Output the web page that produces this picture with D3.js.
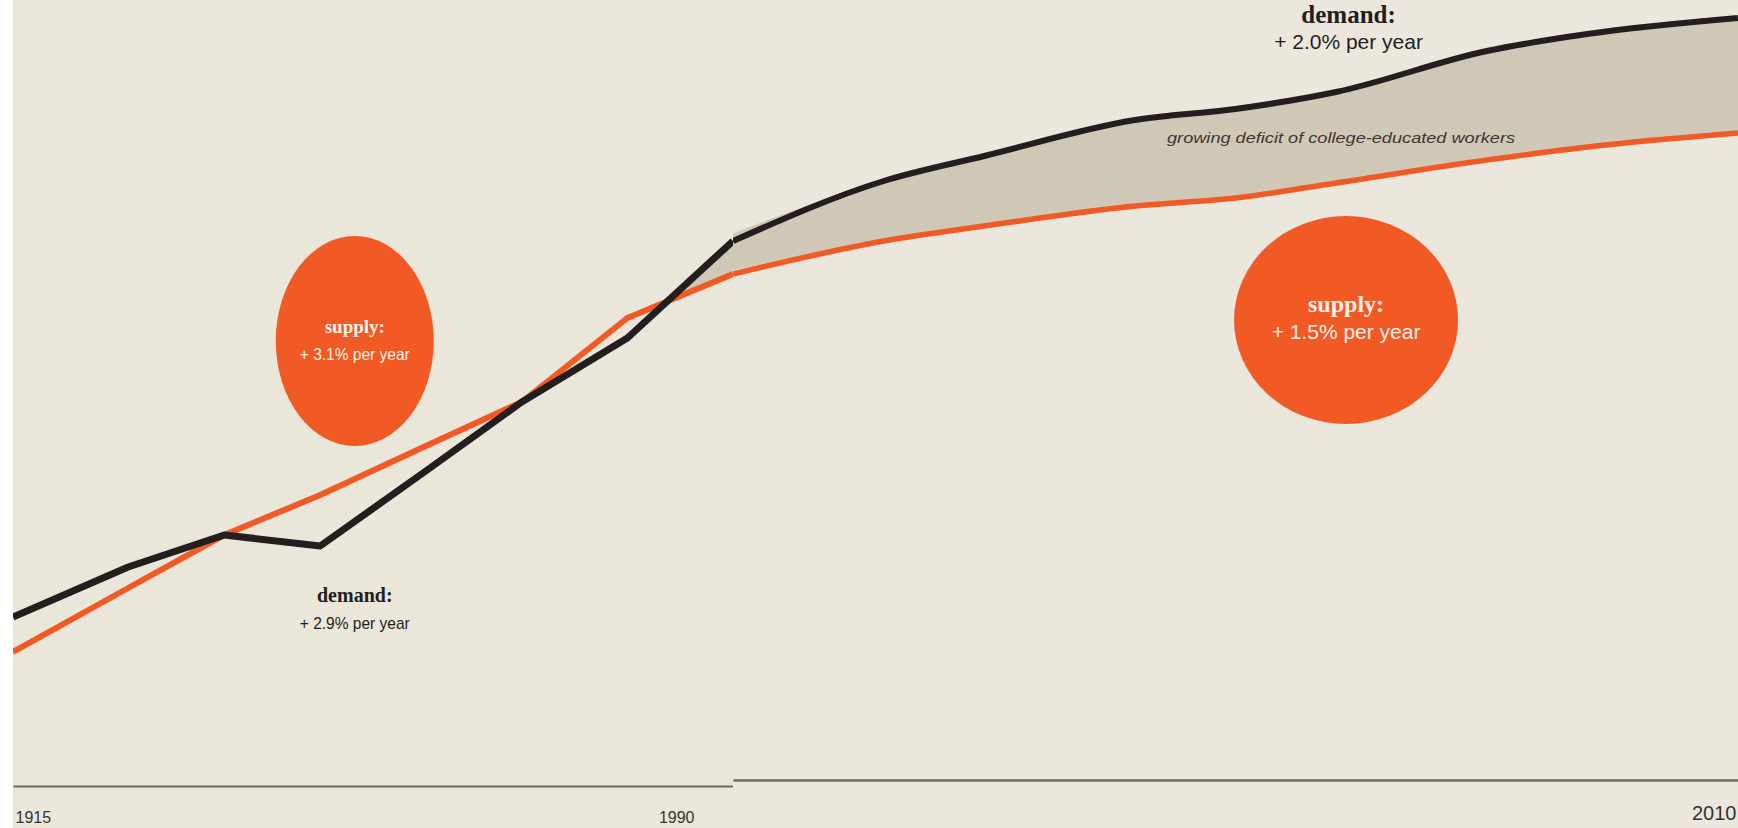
<!DOCTYPE html>
<html>
<head>
<meta charset="utf-8">
<script src="https://cdn.jsdelivr.net/npm/d3@7"></script>
<style>
  html, body { margin: 0; padding: 0; background: #fff; }
  svg { display: block; }
</style>
</head>
<body>
<svg id="chart" width="1738" height="828"></svg>
<script>
// left panel, 1915-1990 (index, arbitrary units)
const leftYears = [1915, 1927, 1937, 1947, 1958, 1968, 1979, 1990]
const leftDemand = [169, 219, 251, 240, 315, 384, 448, 545]
const leftSupply = [134, 198, 251, 291, 340, 384, 468, 512]

// right panel, 1990-2010
const rightYears = [1990, 1993, 1995, 1998, 2000, 2002, 2005, 2007, 2010]
const rightDemand = [545, 605, 630, 666, 677, 694, 735, 752, 768]
const rightSupply = [512, 545, 560, 580, 588, 603, 626, 639, 653]

const leftTicks = [1915, 1990]
const rightTicks = [2010]

const ORANGE = '#f15a24'
const INK = '#231f20'
const GAP = '#d0c8b6'

const svg = d3.select('#chart')
const W = +svg.attr('width')
const H = +svg.attr('height')

const xL = d3.scaleLinear().domain([1915, 1990]).range([13, 733])
const xR = d3.scaleLinear().domain([1990, 2010]).range([733, W])
const y = d3.scaleLinear().domain([0, 786]).range([786, 0])

const zip = (years, vals) => years.map((d, i) => [d, vals[i]])

// only the stretch after demand last overtakes supply gets the tan fill
function deficit(years, dem, sup) {
  let k = 0
  for (let i = 0; i < years.length; i++) if (dem[i] <= sup[i]) k = i
  if (k === years.length - 1) return []
  const d0 = sup[k] - dem[k]
  const d1 = sup[k + 1] - dem[k + 1]
  const t = d0 / (d0 - d1)
  const yr = years[k] + t * (years[k + 1] - years[k])
  const v = dem[k] + t * (dem[k + 1] - dem[k])
  const out = [{ year: yr, dem: v, sup: v }]
  for (let i = k + 1; i < years.length; i++) out.push({ year: years[i], dem: dem[i], sup: sup[i] })
  return out
}

const defs = svg.append('defs')
defs.append('clipPath').attr('id', 'clip-left')
  .append('rect').attr('x', 13).attr('y', 0).attr('width', 733 - 13).attr('height', H)
defs.append('clipPath').attr('id', 'clip-right')
  .append('rect').attr('x', 733).attr('y', 0).attr('width', W - 733).attr('height', H)

// ---------- left panel ----------
const left = svg.append('g').attr('clip-path', 'url(#clip-left)')
left.append('rect').attr('x', 13).attr('y', 0).attr('width', 733 - 13).attr('height', H).attr('fill', '#eae6da')

const lineL = d3.line().x(d => xL(d[0])).y(d => y(d[1]))
const areaL = d3.area().x(d => xL(d.year)).y0(d => y(d.sup)).y1(d => y(d.dem))

left.append('path').attr('d', areaL(deficit(leftYears, leftDemand, leftSupply))).attr('fill', GAP)
left.append('path').attr('d', lineL(zip(leftYears, leftSupply)))
  .attr('fill', 'none').attr('stroke', ORANGE).attr('stroke-width', 6).attr('stroke-linejoin', 'round')
left.append('path').attr('d', lineL(zip(leftYears, leftDemand)))
  .attr('fill', 'none').attr('stroke', INK).attr('stroke-width', 7).attr('stroke-linejoin', 'round')

const axL = left.append('g').attr('transform', `translate(0,${y(0)})`)
  .call(d3.axisBottom(xL).tickValues(leftTicks).tickSize(0).tickFormat(d3.format('d')))
axL.select('.domain').attr('stroke', '#6d6a60').attr('stroke-width', 2)
axL.selectAll('text')
  .attr('font-family', 'Liberation Sans, Arial, sans-serif').attr('font-size', 16).attr('fill', '#333')
  .attr('dy', 0).attr('y', 37)
  .attr('text-anchor', d => d === 1915 ? 'start' : 'end')
  .attr('x', d => d === 1915 ? 2 : -39)

// supply bubble
const lb = left.append('g').attr('transform', `translate(${xL(1950.6)},${y(445)})`)
lb.append('ellipse').attr('rx', 79).attr('ry', 105).attr('fill', ORANGE)
lb.append('text').text('supply:').attr('y', -8).attr('text-anchor', 'middle')
  .attr('font-family', 'Liberation Serif, Times New Roman, serif').attr('font-weight', 'bold')
  .attr('font-size', 19).attr('fill', '#fdf1ea')
lb.append('text').text('+ 3.1% per year').attr('y', 19).attr('text-anchor', 'middle')
  .attr('font-family', 'Liberation Sans, Arial, sans-serif').attr('font-size', 17)
  .attr('textLength', 110).attr('lengthAdjust', 'spacingAndGlyphs').attr('fill', '#fdf1ea')

const ld = left.append('g').attr('transform', `translate(${xL(1950.6)},${y(184)})`)
ld.append('text').text('demand:').attr('text-anchor', 'middle')
  .attr('font-family', 'Liberation Serif, Times New Roman, serif').attr('font-weight', 'bold')
  .attr('font-size', 20).attr('fill', INK)
ld.append('text').text('+ 2.9% per year').attr('y', 27).attr('text-anchor', 'middle')
  .attr('font-family', 'Liberation Sans, Arial, sans-serif').attr('font-size', 17)
  .attr('textLength', 110).attr('lengthAdjust', 'spacingAndGlyphs').attr('fill', INK)

// ---------- right panel ----------
const right = svg.append('g').attr('clip-path', 'url(#clip-right)')
right.append('rect').attr('x', 733).attr('y', 0).attr('width', W - 733).attr('height', H).attr('fill', '#ebe7dd')

const lineR = d3.line().x(d => xR(d[0])).y(d => y(d[1])).curve(d3.curveMonotoneX)
const areaR = d3.area().x(d => xR(d.year)).y0(d => y(d.sup)).y1(d => y(d.dem)).curve(d3.curveMonotoneX)

right.append('path').attr('d', areaR(deficit(rightYears, rightDemand, rightSupply))).attr('fill', GAP)
right.append('path').attr('d', lineR(zip(rightYears, rightSupply)))
  .attr('fill', 'none').attr('stroke', ORANGE).attr('stroke-width', 5.5)
right.append('path').attr('d', lineR(zip(rightYears, rightDemand)))
  .attr('fill', 'none').attr('stroke', INK).attr('stroke-width', 6)

const axR = right.append('g').attr('transform', `translate(0,${y(6)})`)
  .call(d3.axisBottom(xR).tickValues(rightTicks).tickSize(0).tickFormat(d3.format('d')))
axR.select('.domain').attr('stroke', '#6d6a60').attr('stroke-width', 2.5)
axR.selectAll('text')
  .attr('font-family', 'Liberation Sans, Arial, sans-serif').attr('font-size', 20).attr('fill', '#333')
  .attr('dy', 0).attr('y', 40).attr('text-anchor', 'end').attr('x', -2)

right.append('text').text('growing deficit of college-educated workers')
  .attr('x', xR(2002.1)).attr('y', y(643)).attr('text-anchor', 'middle')
  .attr('font-family', 'Liberation Sans, Arial, sans-serif').attr('font-style', 'italic')
  .attr('font-size', 15).attr('textLength', 348).attr('lengthAdjust', 'spacingAndGlyphs')
  .attr('fill', '#3b3733')

const rd = right.append('g').attr('transform', `translate(${xR(2002.25)},${y(763)})`)
rd.append('text').text('demand:').attr('text-anchor', 'middle')
  .attr('font-family', 'Liberation Serif, Times New Roman, serif').attr('font-weight', 'bold')
  .attr('font-size', 25).attr('fill', INK)
rd.append('text').text('+ 2.0% per year').attr('y', 26).attr('text-anchor', 'middle')
  .attr('font-family', 'Liberation Sans, Arial, sans-serif').attr('font-size', 21).attr('fill', INK)

const rb = right.append('g').attr('transform', `translate(${xR(2002.2)},${y(466)})`)
rb.append('ellipse').attr('rx', 112).attr('ry', 104).attr('fill', ORANGE)
rb.append('text').text('supply:').attr('y', -8).attr('text-anchor', 'middle')
  .attr('font-family', 'Liberation Serif, Times New Roman, serif').attr('font-weight', 'bold')
  .attr('font-size', 24).attr('fill', '#fdf1ea')
rb.append('text').text('+ 1.5% per year').attr('y', 19).attr('text-anchor', 'middle')
  .attr('font-family', 'Liberation Sans, Arial, sans-serif').attr('font-size', 21).attr('fill', '#fdf1ea')
</script>
</body>
</html>
